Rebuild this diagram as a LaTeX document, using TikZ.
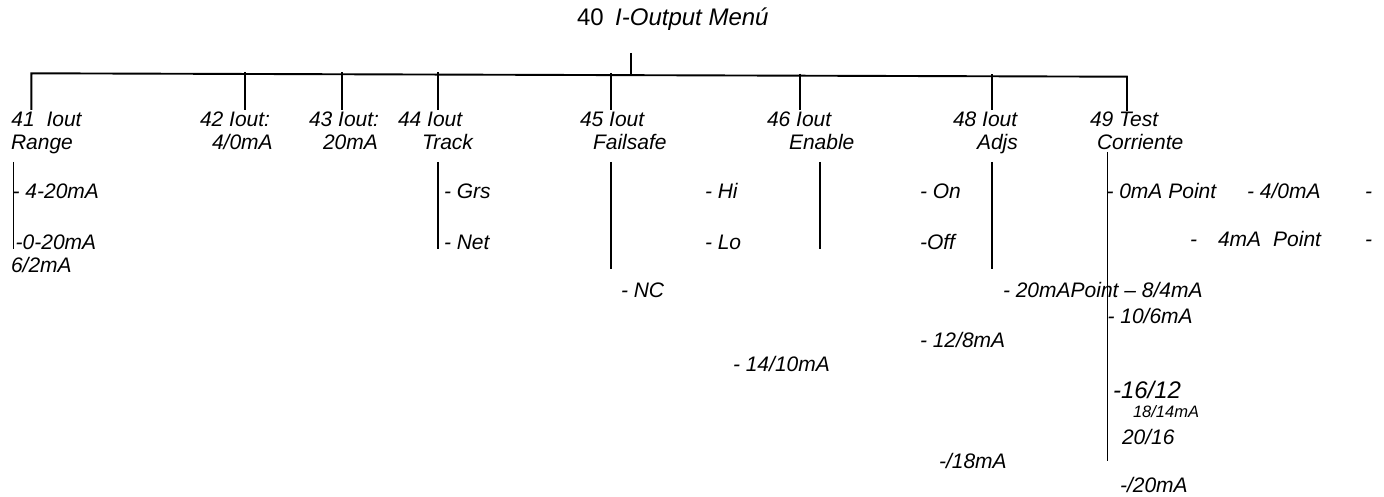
\documentclass[tikz,border=0pt]{standalone}
\usepackage{fontspec}
\setmainfont{Liberation Sans}
\begin{document}
\begin{tikzpicture}[x=1pt,y=-1pt,
  lbl/.style={anchor=base west,inner sep=0pt,outer sep=0pt,font=\fontsize{21}{24}\selectfont\itshape},
  biglbl/.style={lbl,font=\fontsize{24}{27}\selectfont\itshape},
  smalllbl/.style={lbl,font=\fontsize{16.5}{19}\selectfont\itshape},
  titlelbl/.style={anchor=base west,inner sep=0pt,outer sep=0pt,font=\fontsize{24}{27}\selectfont},
  busline/.style={line width=1.9pt},
  branch/.style={line width=1.5pt}]
\useasboundingbox (0,0) rectangle (1384,497);
% title
\node[titlelbl] (title) at (577,26) {40\hspace{11.5pt}{\itshape I-Output Menú}};
% first-level labels
\node[lbl] (a41) at (11.5,127) {41\ \ Iout};
\node[lbl] (b41) at (11,150) {Range};
\node[lbl] (a42) at (200,127) {42 Iout:};
\node[lbl] (b42) at (212,150) {4/0mA};
\node[lbl] (a43) at (309,127) {43 Iout:};
\node[lbl] (b43) at (323,150) {20mA};
\node[lbl] (a44) at (398,127) {44 Iout};
\node[lbl] (b44) at (422,150) {Track};
\node[lbl] (a45) at (580,127) {45 Iout};
\node[lbl] (b45) at (593,150) {Failsafe};
\node[lbl] (a46) at (767,127) {46 Iout};
\node[lbl] (b46) at (789,150) {Enable};
\node[lbl] (a48) at (953,127) {48 Iout};
\node[lbl] (b48) at (977,150) {Adjs};
\node[lbl] (a49) at (1090,127) {49 Test};
\node[lbl] (b49) at (1097,150) {Corriente};
% sub-items
\node[lbl] (r1) at (12.6,199) {- 4-20mA};
\node[lbl] (r2) at (15.7,249) {-0-20mA};
\node[lbl] (r3) at (11,272) {6/2mA};
\node[lbl] (t1) at (444,199) {- Grs};
\node[lbl] (t2) at (444,249) {- Net};
\node[lbl] (f1) at (621,297) {- NC};
\node[lbl] (e1) at (705,199) {- Hi};
\node[lbl] (e2) at (705,249) {- Lo};
\node[lbl] (j1) at (920,199) {- On};
\node[lbl] (j2) at (920,249) {-Off};
\node[lbl] (c1) at (1106.5,199) {- 0mA Point};
\node[lbl] (c2) at (1247,199) {- 4/0mA};
\node[lbl] (c3) at (1365,199) {-};
\node[lbl] (c4) at (1190,247) {-\hspace{21pt}4mA\hspace{12pt}Point};
\node[lbl] (c5) at (1365,247) {-};
\node[lbl] (c6) at (1003,297) {- 20mAPoint – 8/4mA};
\node[lbl] (c7) at (1107.5,323) {- 10/6mA};
\node[lbl] (c8) at (920,347) {- 12/8mA};
\node[lbl] (c9) at (733,371) {- 14/10mA};
\node[biglbl] (c10) at (1113,398) {-16/12};
\node[smalllbl] (c11) at (1133,417) {18/14mA};
\node[lbl] (c12) at (1122,444) {20/16};
\node[lbl] (c13) at (939,468) {-/18mA};
\node[lbl] (c14) at (1120,492) {-/20mA};
% bus coordinates
\coordinate (tt) at (631,53);
\coordinate (tb) at (631,74.8);
\coordinate (bL) at (31.4,73.3);
\coordinate (bR) at (1127,76.7);
\coordinate (v41) at (31.4,110);
\coordinate (u42) at (245,71.8); \coordinate (v42) at (245,110);
\coordinate (u43) at (342,72.1); \coordinate (v43) at (342,110);
\coordinate (u44) at (438,72.4); \coordinate (v44) at (438,110);
\coordinate (u45) at (611,73.0); \coordinate (v45) at (611,110);
\coordinate (u46) at (800,73.6); \coordinate (v46) at (800,110);
\coordinate (u48) at (992,74.2); \coordinate (v48) at (992,110);
\coordinate (v49) at (1127,111);
\draw[branch] (tt) -- (tb);
\draw[busline] (v41) -- (bL) -- (bR) -- (v49);
\foreach \i in {42,43,44,45,46,48} \draw[branch] (u\i) -- (v\i);
% sub-branch lines
\coordinate (s41t) at (13.5,162); \coordinate (s41b) at (13.5,249);
\coordinate (s44t) at (438,162); \coordinate (s44b) at (438,249);
\coordinate (s45t) at (611,162); \coordinate (s45b) at (611,269);
\coordinate (s46t) at (820,162); \coordinate (s46b) at (820,249);
\coordinate (s48t) at (992,162); \coordinate (s48b) at (992,269);
\coordinate (s49t) at (1107.7,152); \coordinate (s49b) at (1107.7,461);
\foreach \i in {41,44,45,46,48,49} \draw[branch] (s\i t) -- (s\i b);
\end{tikzpicture}
\end{document}
